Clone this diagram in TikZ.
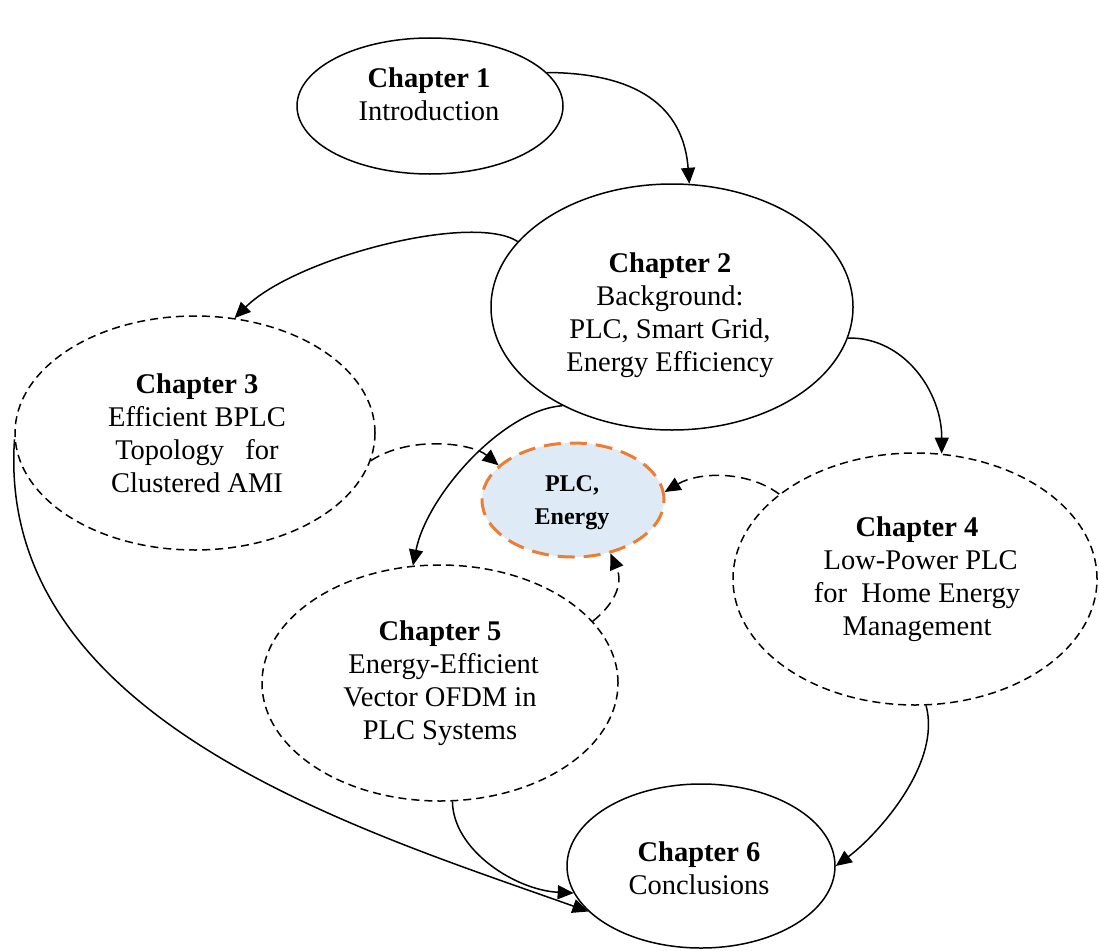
\documentclass[tikz,border=0pt]{standalone}
\usepackage{fontspec}
\setmainfont{Liberation Serif}
\usetikzlibrary{shapes.geometric,arrows.meta}
\definecolor{plcorange}{RGB}{237,125,49}
\definecolor{plcfill}{RGB}{222,235,247}
\begin{document}
\begin{tikzpicture}[x=1pt,y=-1pt,
  ell/.style={ellipse,draw=black,line width=1.5pt,inner sep=0pt},
  dashell/.style={ell,dash pattern=on 8pt off 5pt},
  plcell/.style={ellipse,draw=plcorange,fill=plcfill,line width=3pt,dash pattern=on 17pt off 9pt,inner sep=0pt},
  txt/.style={align=center,font=\fontsize{28.5}{33}\selectfont,inner sep=0pt},
  plctxt/.style={align=center,font=\fontsize{24}{33}\selectfont\bfseries,inner sep=0pt},
  conn/.style={line width=1.5pt,-{Triangle[length=16pt,width=14pt]}},
  dconn/.style={conn,dash pattern=on 10pt off 6pt}]
\useasboundingbox (0,0) rectangle (1099,950);

% ellipses
\node[ell,minimum width=266pt,minimum height=136pt] (c1) at (430,106) {};
\node[ell,minimum width=362pt,minimum height=246pt] (c2) at (672,307) {};
\node[dashell,minimum width=360pt,minimum height=234pt] (c3) at (195,433) {};
\node[plcell,minimum width=182pt,minimum height=114pt] (plc) at (573,500) {};
\node[dashell,minimum width=364pt,minimum height=252pt] (c4) at (915,579) {};
\node[dashell,minimum width=356pt,minimum height=236pt] (c5) at (440,683) {};
\node[ell,minimum width=268pt,minimum height=164pt] (c6) at (701,866) {};

% texts
\node[txt] (t1) at (429,94) {\textbf{Chapter 1}\\Introduction};
\node[txt] (t2) at (670,315) {\textbf{Chapter 2}\\Background:\\PLC, Smart Grid,\\Energy Efficiency};
\node[txt] (t3) at (197,433) {\textbf{Chapter 3}\\Efficient BPLC\\Topology\ \ \ for\\Clustered AMI};
\node[plctxt] (tp) at (572,503) {PLC,\\Energy};
\node[txt] (t4) at (917,579) {\textbf{Chapter 4}\\\ Low-Power PLC\\for\ \ Home Energy\\Management};
\node[txt] (t5) at (440,683) {\textbf{Chapter 5}\\\ Energy-Efficient\\Vector OFDM in\\PLC Systems};
\node[txt] (t6) at (699,868) {\textbf{Chapter 6}\\Conclusions};

% connectors
\draw[conn] (c1.16) .. controls (647,73) and (684,114) .. (c2.82);
\draw[conn] (c2.157) .. controls (472,212) and (295,258) .. (c3.71);
\draw[conn] (c2.350) .. controls (905,337) and (942,393) .. (c4.78);
\draw[conn] (c2.222) .. controls (503,410) and (427,495) .. (c5.103);
\draw[dconn] (c3.351) .. controls (410,435) and (472,443) .. (plc.155);
\draw[dconn] (c4.148) .. controls (747,470) and (698,472) .. (plc.5);
\draw[dconn] (c5.22) .. controls (613,605) and (624,585) .. (plc.305);
\draw[conn] (c3.182) .. controls (-5,720) and (360,830) .. (c6.202);
\draw[conn] (c5.276) .. controls (453,850) and (515,890) .. (c6.192);
\draw[conn] (c4.275) .. controls (942,765) and (875,837) .. (c6.0);
\end{tikzpicture}
\end{document}
